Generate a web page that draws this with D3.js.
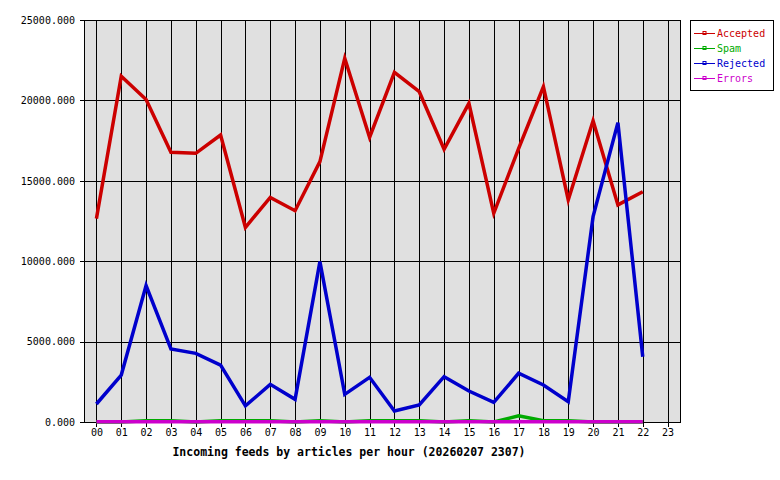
<!DOCTYPE html>
<meta charset="utf-8">
<style>
	body { margin: 0; background: #ffffff; }
	text { font-family: "DejaVu Sans Mono", "Liberation Mono", monospace; }
</style>
<body>
	<div id="chart"></div>
</body>
<script src="https://cdn.jsdelivr.net/npm/d3@7"></script>
<script>
	const hours = ['00', '01', '02', '03', '04', '05', '06', '07', '08', '09', '10', '11',
		'12', '13', '14', '15', '16', '17', '18', '19', '20', '21', '22', '23'];

	// values per hour, 00 .. 22 (no data for 23 yet)
	const accepted = [12650, 21500, 20050, 16770, 16710, 17850, 12100, 13970, 13140, 16190, 22620, 17700,
		21750, 20540, 16960, 19820, 12980, 17000, 20850, 13810, 18740, 13500, 14320];
	const spam = [0, 0, 80, 80, 0, 80, 80, 80, 0, 80, 0, 80,
		80, 80, 0, 80, 0, 380, 80, 80, 0, 0, 0];
	const rejected = [1120, 2920, 8480, 4540, 4270, 3540, 1000, 2340, 1410, 9970, 1720, 2780,
		680, 1060, 2820, 1930, 1220, 3030, 2300, 1260, 12770, 18620, 4060];
	const errors = [20, 20, 20, 20, 20, 20, 20, 20, 20, 20, 20, 20,
		20, 20, 20, 20, 20, 20, 20, 20, 20, 20, 20];

	const seriesNames = ['Accepted', 'Spam', 'Rejected', 'Errors'];
	const seriesColors = ['#cc0000', '#00aa00', '#0000cc', '#cc00cc'];
	const yTicks = [0, 5000, 10000, 15000, 20000, 25000];
	const title = 'Incoming feeds by articles per hour (20260207 2307)';

	const width = 780,
	    height = 480,
	    margin = {left: 84, right: 100, top: 20, bottom: 58};

	const svg = d3.select('#chart').append('svg')
	    .attr('width', width)
	    .attr('height', height);

	const x = d3.scalePoint()
	    .domain(hours)
	    .range([margin.left, width - margin.right])
	    .padding(0.5);

	const y = d3.scaleLinear()
	    .domain([0, 25000])
	    .range([height - margin.bottom, margin.top]);

	// plot background
	svg.append('rect')
	    .attr('x', margin.left)
	    .attr('y', margin.top)
	    .attr('width', width - margin.right - margin.left)
	    .attr('height', height - margin.bottom - margin.top)
	    .style('fill', '#e0e0e0');

	// vertical grid
	svg.append('g')
	    .attr('transform', 'translate(0,' + margin.top + ')')
	    .call(d3.axisBottom(x).tickSize(height - margin.bottom - margin.top + 5).tickFormat(''))
	    .call(g => g.select('.domain').remove())
	    .call(g => g.selectAll('line').attr('stroke', '#000').attr('shape-rendering', 'crispEdges'));

	// x labels
	svg.append('g')
	    .attr('transform', 'translate(0,' + (height - margin.bottom) + ')')
	    .call(d3.axisBottom(x).tickSize(0).tickPadding(7))
	    .call(g => g.select('.domain').remove())
	    .call(g => g.selectAll('text').attr('fill', '#000').style('font-size', '10px')
	        .style('font-family', '"DejaVu Sans Mono", monospace'));

	// horizontal grid + y labels
	svg.append('g')
	    .attr('transform', 'translate(' + (width - margin.right) + ',0)')
	    .call(d3.axisLeft(y).tickValues(yTicks)
	        .tickSize(width - margin.right - margin.left + 4)
	        .tickPadding(5)
	        .tickFormat(d3.format('.3f')))
	    .call(g => g.select('.domain').remove())
	    .call(g => g.selectAll('line').attr('stroke', '#000').attr('shape-rendering', 'crispEdges'))
	    .call(g => g.selectAll('text').attr('fill', '#000').style('font-size', '10px')
	        .style('font-family', '"DejaVu Sans Mono", monospace'));

	// plot frame
	svg.append('rect')
	    .attr('x', margin.left)
	    .attr('y', margin.top)
	    .attr('width', width - margin.right - margin.left)
	    .attr('height', height - margin.bottom - margin.top)
	    .attr('shape-rendering', 'crispEdges')
	    .style('fill', 'none')
	    .style('stroke', '#000');

	const line = d3.line()
	    .x((d, i) => x(hours[i]))
	    .y(d => y(d));

	[accepted, spam, rejected, errors].forEach(function(values, i) {
	    svg.append('path')
	        .datum(values)
	        .attr('d', line)
	        .style('fill', 'none')
	        .style('stroke', seriesColors[i])
	        .style('stroke-width', 3.5)
	        .style('stroke-linejoin', 'miter');
	});

	svg.append('text')
	    .attr('x', 349)
	    .attr('y', 456)
	    .attr('text-anchor', 'middle')
	    .style('font-size', '11.5px')
	    .style('font-weight', 'bold')
	    .text(title);

	// legend
	const legend = svg.append('g')
	    .attr('transform', 'translate(690, 20)');

	legend.append('rect')
	    .attr('x', 0.5)
	    .attr('y', 0.5)
	    .attr('width', 83)
	    .attr('height', 70)
	    .style('fill', '#fff')
	    .style('stroke', '#000');

	const rows = legend.selectAll('g.row')
	    .data(seriesNames)
	    .enter().append('g')
	        .attr('class', 'row')
	        .attr('transform', (d, i) => 'translate(0,' + (13 + i * 15) + ')');

	rows.append('line')
	    .attr('x1', 4)
	    .attr('x2', 25)
	    .attr('y1', 0.5)
	    .attr('y2', 0.5)
	    .style('stroke', (d, i) => seriesColors[i]);

	rows.append('rect')
	    .attr('x', 13)
	    .attr('y', -1.5)
	    .attr('width', 3)
	    .attr('height', 3)
	    .style('fill', 'none')
	    .style('stroke', (d, i) => seriesColors[i])
	    .style('stroke-width', 1);

	rows.append('text')
	    .attr('x', 27)
	    .attr('y', 4)
	    .style('font-size', '10px')
	    .style('fill', (d, i) => seriesColors[i])
	    .text(d => d);
</script>
